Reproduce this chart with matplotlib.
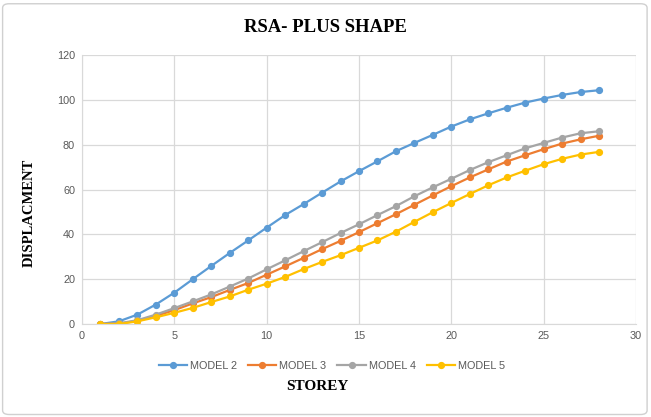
import matplotlib.pyplot as plt
from matplotlib.patches import FancyBboxPatch

# Данные
storey = list(range(1, 29))
model_2 = [0, 1.2, 4.2, 8.7, 14.0, 20.0, 25.9, 31.7, 37.3, 43.0, 48.6, 53.5, 58.6, 63.6,
           68.2, 72.6, 77.1, 80.8, 84.4, 88.1, 91.3, 94.0, 96.5, 98.8, 100.6, 102.2, 103.5, 104.3]
model_3 = [0, 0.2, 1.4, 3.6, 6.2, 9.2, 12.0, 15.2, 18.3, 22.0, 25.7, 29.5, 33.4, 37.1,
           41.0, 45.0, 49.0, 53.2, 57.4, 61.5, 65.4, 69.0, 72.5, 75.3, 78.0, 80.5, 82.4, 84.0]
model_4 = [0, 0.3, 1.7, 4.2, 7.1, 10.1, 13.2, 16.7, 20.3, 24.4, 28.4, 32.5, 36.5, 40.6,
           44.5, 48.6, 52.6, 57.0, 61.0, 64.8, 68.7, 72.2, 75.3, 78.4, 80.8, 83.2, 85.1, 86.0]
model_5 = [0, 0, 1.2, 3.0, 5.0, 7.2, 9.8, 12.3, 15.3, 18.0, 21.0, 24.5, 27.7, 30.7,
           34.0, 37.3, 41.2, 45.6, 49.9, 54.0, 58.0, 61.9, 65.4, 68.4, 71.3, 73.7, 75.6, 76.8]

series = [('MODEL 2', model_2, '#5B9BD5'),
          ('MODEL 3', model_3, '#ED7D31'),
          ('MODEL 4', model_4, '#A5A5A5'),
          ('MODEL 5', model_5, '#FFC000')]

fig = plt.figure(figsize=(6.51, 4.17), dpi=100)
# рамка вокруг диаграммы
fig.patches.append(FancyBboxPatch((0.004, 0.006), 0.99, 0.985, boxstyle='round,pad=0,rounding_size=0.01',
                                  transform=fig.transFigure, fill=False, edgecolor='#D0D0D0', linewidth=1))
ax = fig.add_axes([0.126, 0.223, 0.851, 0.645])

for name, vals, color in series:
    ax.plot(storey, vals, color=color, linewidth=1.6, marker='o', markersize=4.2, label=name)

ax.set_xlim(0, 30)
ax.set_ylim(0, 120)
ax.set_xticks(range(0, 31, 5))
ax.set_yticks(range(0, 121, 20))
ax.grid(True, color='#D9D9D9', linewidth=0.9)
ax.set_axisbelow(True)
for side in ['top', 'right']:
    ax.spines[side].set_visible(False)
ax.spines['bottom'].set_color('#D9D9D9')
ax.spines['left'].set_color('#D9D9D9')
ax.tick_params(length=0, labelsize=7.8, labelcolor='#595959', pad=5)
for lab in ax.get_xticklabels() + ax.get_yticklabels():
    lab.set_family('Liberation Sans')

fig.text(0.5, 0.935, 'RSA- PLUS SHAPE', ha='center', va='center',
         fontsize=13.5, fontweight='bold', family='Liberation Serif')
fig.text(0.045, 0.49, 'DISPLACMENT', ha='center', va='center', rotation=90,
         fontsize=10.5, fontweight='bold', family='Liberation Serif')
fig.text(0.487, 0.073, 'STOREY', ha='center', va='center',
         fontsize=11, fontweight='bold', family='Liberation Serif')

ax.legend(loc='center', bbox_to_anchor=(0.51, 0.122), bbox_transform=fig.transFigure, ncol=4,
          frameon=False, prop={'family': 'Liberation Sans', 'size': 7.8}, labelcolor='#595959',
          handlelength=2.6, columnspacing=1.0, handletextpad=0.3)

plt.savefig('out.png', dpi=100)
